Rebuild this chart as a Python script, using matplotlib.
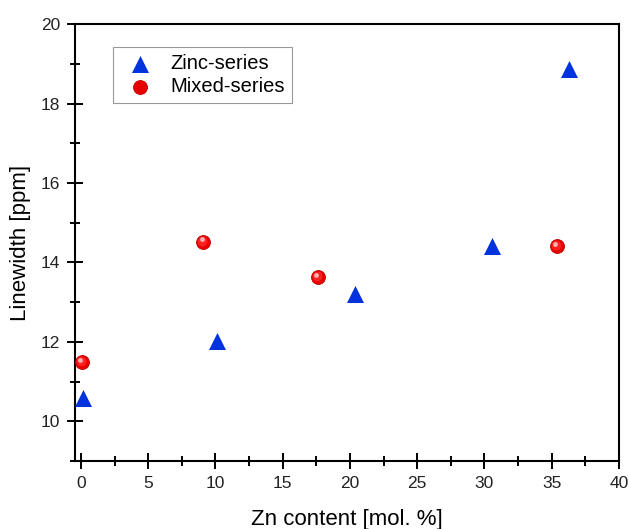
import numpy as np
import matplotlib.pyplot as plt
from matplotlib.ticker import MultipleLocator

plt.rcParams['font.family'] = ['Liberation Sans', 'DejaVu Sans']

# Zinc-series
zinc_x = [0.15, 10.1, 20.4, 30.6, 36.3]
zinc_y = [10.58, 12.02, 13.2, 14.42, 18.86]

# Mixed-series
mixed_x = [0.05, 9.1, 17.6, 35.4]
mixed_y = [11.49, 14.52, 13.63, 14.41]


def main():
    fig = plt.figure(figsize=(6.29, 5.29), dpi=100)
    ax = fig.add_axes([0.119, 0.1285, 0.865, 0.826])

    ax.scatter(zinc_x, zinc_y, marker='^', s=150, color='#0033dd', linewidths=0,
               label='Zinc-series', zorder=3)
    ax.scatter(mixed_x, mixed_y, marker='o', s=100, color='#e80000', edgecolors='#c00000',
               linewidths=0.6, label='Mixed-series', zorder=3)
    # shading to make the points look like spheres
    mx = np.array(mixed_x)
    my = np.array(mixed_y)
    ax.scatter(mx - 0.06, my + 0.03, marker='o', s=50, color='#ff2020', linewidths=0, zorder=4)
    ax.scatter(mx - 0.12, my + 0.06, marker='o', s=12, color='#ffb0b0', linewidths=0, zorder=5)

    ax.set_xlim(-0.45, 40)
    ax.set_ylim(9, 20)
    ax.xaxis.set_major_locator(MultipleLocator(5))
    ax.xaxis.set_minor_locator(MultipleLocator(2.5))
    ax.yaxis.set_major_locator(MultipleLocator(2))
    ax.yaxis.set_minor_locator(MultipleLocator(1))
    ax.tick_params(which='major', direction='inout', length=11.5, width=1.4,
                   labelsize=12.5, pad=5, labelcolor='#222222')
    ax.tick_params(which='minor', direction='inout', length=6.5, width=1.4)
    for s in ax.spines.values():
        s.set_linewidth(1.5)

    ax.set_xlabel('Zn content [mol. %]', fontsize=16, labelpad=13)
    ax.set_ylabel('Linewidth [ppm]', fontsize=16, labelpad=7)

    leg = ax.legend(loc='upper left', bbox_to_anchor=(0.07, 0.947), fontsize=14.5,
                    fancybox=False, edgecolor='#999999', framealpha=1,
                    handletextpad=0.5, borderpad=0.35, labelspacing=0.2,
                    borderaxespad=0)
    leg.get_frame().set_linewidth(0.8)

    fig.savefig('out.png', dpi=100)


if __name__ == "__main__":
    main()
